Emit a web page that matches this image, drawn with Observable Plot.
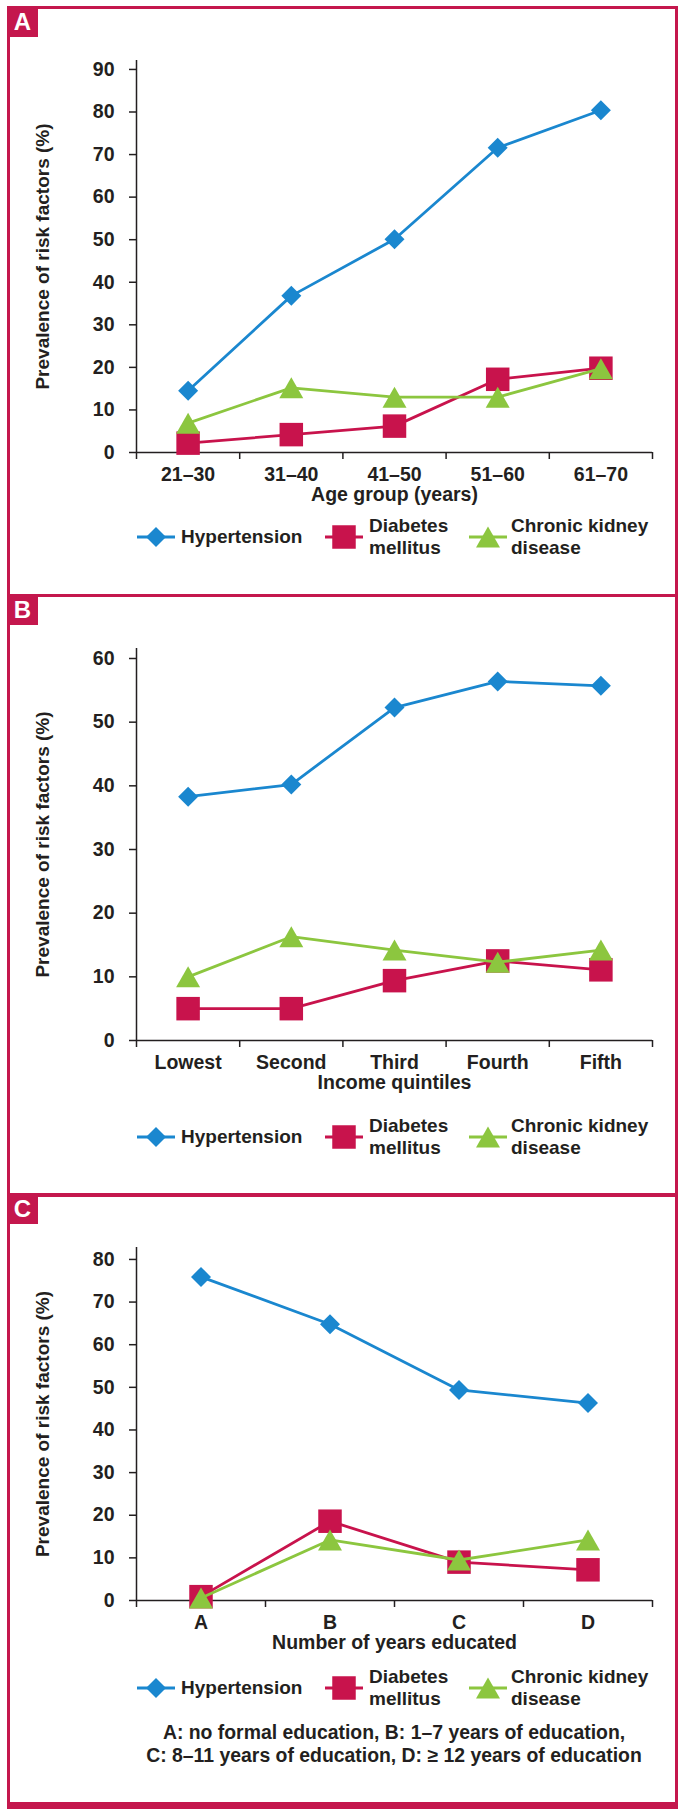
<!DOCTYPE html>
<html>
<head>
<meta charset="utf-8">
<script src="https://cdn.jsdelivr.net/npm/d3@7"></script>
<script src="https://cdn.jsdelivr.net/npm/@observablehq/plot@0.6"></script>
<style>
  body { margin: 0; background: #fff; }
  #page { position: relative; width: 682px; height: 1809px; overflow: hidden;
          font-family: "Liberation Sans", Arial, sans-serif; color: #231f20; }
  .panel { position: absolute; left: 7px; width: 671px; border: 3px solid #c4174d; box-sizing: border-box; }
  .tag { position: absolute; left: 7px; width: 31px; height: 31px; background: #c4174d; color: #fff;
         font-weight: bold; font-size: 24px; line-height: 31px; text-align: center; }
  .chart { position: absolute; left: 0; }
  .legtext { position: absolute; font-size: 19px; font-weight: bold; line-height: 22px; white-space: nowrap; }
  .swatch { position: absolute; }
  .foot { position: absolute; left: 116px; width: 556px; text-align: center; font-size: 19.4px;
          font-weight: bold; line-height: 23px; white-space: nowrap; }
</style>
</head>
<body>
<div id="page"></div>
<script>
// ---------- data ----------
const seriesNames = ["Hypertension", "Diabetes mellitus", "Chronic kidney disease"];
const legendLines = [["Hypertension"], ["Diabetes", "mellitus"], ["Chronic kidney", "disease"]];
const seriesColors = ["#1a87cf", "#c8134c", "#8cc63f"];

const ageGroups = ["21–30", "31–40", "41–50", "51–60", "61–70"];
const ageHypertension = [14.5, 36.8, 50.1, 71.6, 80.4];
const ageDiabetes = [2.2, 4.2, 6.2, 17.2, 19.8];
const ageCKD = [6.9, 15.2, 13.0, 13.0, 19.7];
const ageTicks = [0, 10, 20, 30, 40, 50, 60, 70, 80, 90];

const incomeQuintiles = ["Lowest", "Second", "Third", "Fourth", "Fifth"];
const incomeHypertension = [38.3, 40.2, 52.3, 56.4, 55.7];
const incomeDiabetes = [5.0, 5.0, 9.4, 12.5, 11.1];
const incomeCKD = [10.0, 16.3, 14.2, 12.3, 14.2];
const incomeTicks = [0, 10, 20, 30, 40, 50, 60];

const eduLevels = ["A", "B", "C", "D"];
const eduHypertension = [75.9, 64.8, 49.4, 46.3];
const eduDiabetes = [0.9, 18.6, 9.0, 7.2];
const eduCKD = [0.6, 14.2, 9.5, 14.2];
const eduTicks = [0, 10, 20, 30, 40, 50, 60, 70, 80];

const yTitle = "Prevalence of risk factors (%)";
const footnote = ["A: no formal education, B: 1–7 years of education,",
                  "C: 8–11 years of education, D: ≥ 12 years of education"];

// ---------- marker symbols (bbox-centred, Excel style) ----------
const symDiamond = { draw(ctx, size) { const r = Math.sqrt(size) / 2;
  ctx.moveTo(0, -r); ctx.lineTo(r, 0); ctx.lineTo(0, r); ctx.lineTo(-r, 0); ctx.closePath(); } };
const symSquare = { draw(ctx, size) { const w = Math.sqrt(size);
  ctx.rect(-w / 2, -w / 2, w, w); } };
const symTriangle = { draw(ctx, size) { const w = Math.sqrt(size), h = w * 0.875;
  ctx.moveTo(0, -h / 2); ctx.lineTo(w / 2, h / 2); ctx.lineTo(-w / 2, h / 2); ctx.closePath(); } };
const symbols = [symDiamond, symSquare, symTriangle];
const markerPx = [20, 23.5, 24];                       // marker widths
const markerR = markerPx.map(w => w / Math.sqrt(Math.PI));

const page = document.getElementById("page");
const font = "'Liberation Sans', Arial, sans-serif";
const fs = 19.5;

function drawPanel(cats, values, ticks, yMax, xLabel, frameTop, frameBottom, svgTop) {
  const n = cats.length;
  const marginTop = frameTop - svgTop;
  const marginBottom = 62;
  const height = frameBottom - svgTop + marginBottom;
  const marks = [
    Plot.axisY({ticks, tickSize: 7, tickPadding: 15, fontSize: fs, fontWeight: "bold", label: null, strokeWidth: 1.5}),
    Plot.axisX({ticks: d3.range(n + 1), tickSize: 7, tickFormat: () => "", label: null, strokeWidth: 1.5}),
    Plot.axisX({ticks: d3.range(n).map(i => i + 0.5), tickSize: 0, tickPadding: 15,
                tickFormat: t => cats[Math.floor(t)], fontSize: fs, fontWeight: "bold", label: null}),
    Plot.ruleX([0], {strokeWidth: 1.5}),
    Plot.ruleY([0], {strokeWidth: 1.5})
  ];
  values.forEach((vals, s) => {
    const data = vals.map((v, i) => ({x: i + 0.5, y: v, cat: cats[i], series: seriesNames[s]}));
    marks.push(Plot.line(data, {x: "x", y: "y", stroke: seriesColors[s], strokeWidth: 2.8}));
    marks.push(Plot.dot(data, {x: "x", y: "y", symbol: symbols[s], r: markerR[s], fill: seriesColors[s], stroke: "none"}));
  });
  marks.push(Plot.text([xLabel], {frameAnchor: "bottom", dy: 48, text: d => d, fontSize: fs, fontWeight: "bold"}));
  marks.push(Plot.text([yTitle], {frameAnchor: "left", textAnchor: "middle", dx: -94, rotate: -90,
                                   text: d => d, fontSize: 19, fontWeight: "bold"}));
  const svg = Plot.plot({
    width: 682, height, marginLeft: 136, marginRight: 30, marginTop, marginBottom,
    x: {domain: [0, n]},
    y: {domain: [0, yMax]},
    style: {fontFamily: font, color: "#231f20", background: "transparent", overflow: "visible"},
    marks
  });
  svg.classList.add("chart");
  svg.style.top = svgTop + "px";
  page.appendChild(svg);
}

function addLegend(cy) {
  const items = [{lineX: 137, textX: 181}, {lineX: 325, textX: 369}, {lineX: 469, textX: 511}];
  items.forEach((it, s) => {
    const sw = d3.create("svg").attr("class", "swatch").attr("width", 40).attr("height", 28)
      .style("left", it.lineX + "px").style("top", (cy - 14) + "px");
    sw.append("line").attr("x1", 0).attr("x2", 38).attr("y1", 14).attr("y2", 14)
      .attr("stroke", seriesColors[s]).attr("stroke-width", 2.8);
    const p = d3.path();
    symbols[s].draw(p, markerPx[s] * markerPx[s]);
    sw.append("path").attr("d", p.toString()).attr("transform", "translate(19,14)").attr("fill", seriesColors[s]);
    page.appendChild(sw.node());
    const lines = legendLines[s];
    const t = document.createElement("div");
    t.className = "legtext";
    t.style.left = it.textX + "px";
    t.style.top = (cy - lines.length * 11) + "px";
    t.innerHTML = lines.join("<br>");
    page.appendChild(t);
  });
}

function addPanelBox(top, h, letter, extra) {
  const b = document.createElement("div");
  b.className = "panel";
  b.style.top = top + "px";
  b.style.height = h + "px";
  if (extra) Object.assign(b.style, extra);
  page.appendChild(b);
  const tg = document.createElement("div");
  tg.className = "tag";
  tg.style.top = top + "px";
  tg.textContent = letter;
  page.appendChild(tg);
}

addPanelBox(6, 591, "A");
addPanelBox(594, 603, "B");
addPanelBox(1193, 616, "C", {borderBottomWidth: "7px"});

drawPanel(ageGroups, [ageHypertension, ageDiabetes, ageCKD], ageTicks, 92.1, "Age group (years)", 60, 452, 40);
addLegend(537);

drawPanel(incomeQuintiles, [incomeHypertension, incomeDiabetes, incomeCKD], incomeTicks, 61.57, "Income quintiles", 648, 1040, 628);
addLegend(1137);

drawPanel(eduLevels, [eduHypertension, eduDiabetes, eduCKD], eduTicks, 82.8, "Number of years educated", 1247, 1600, 1227);
addLegend(1688);

const f = document.createElement("div");
f.className = "foot";
f.style.top = "1721px";
f.innerHTML = footnote.join("<br>");
page.appendChild(f);
</script>
</body>
</html>
